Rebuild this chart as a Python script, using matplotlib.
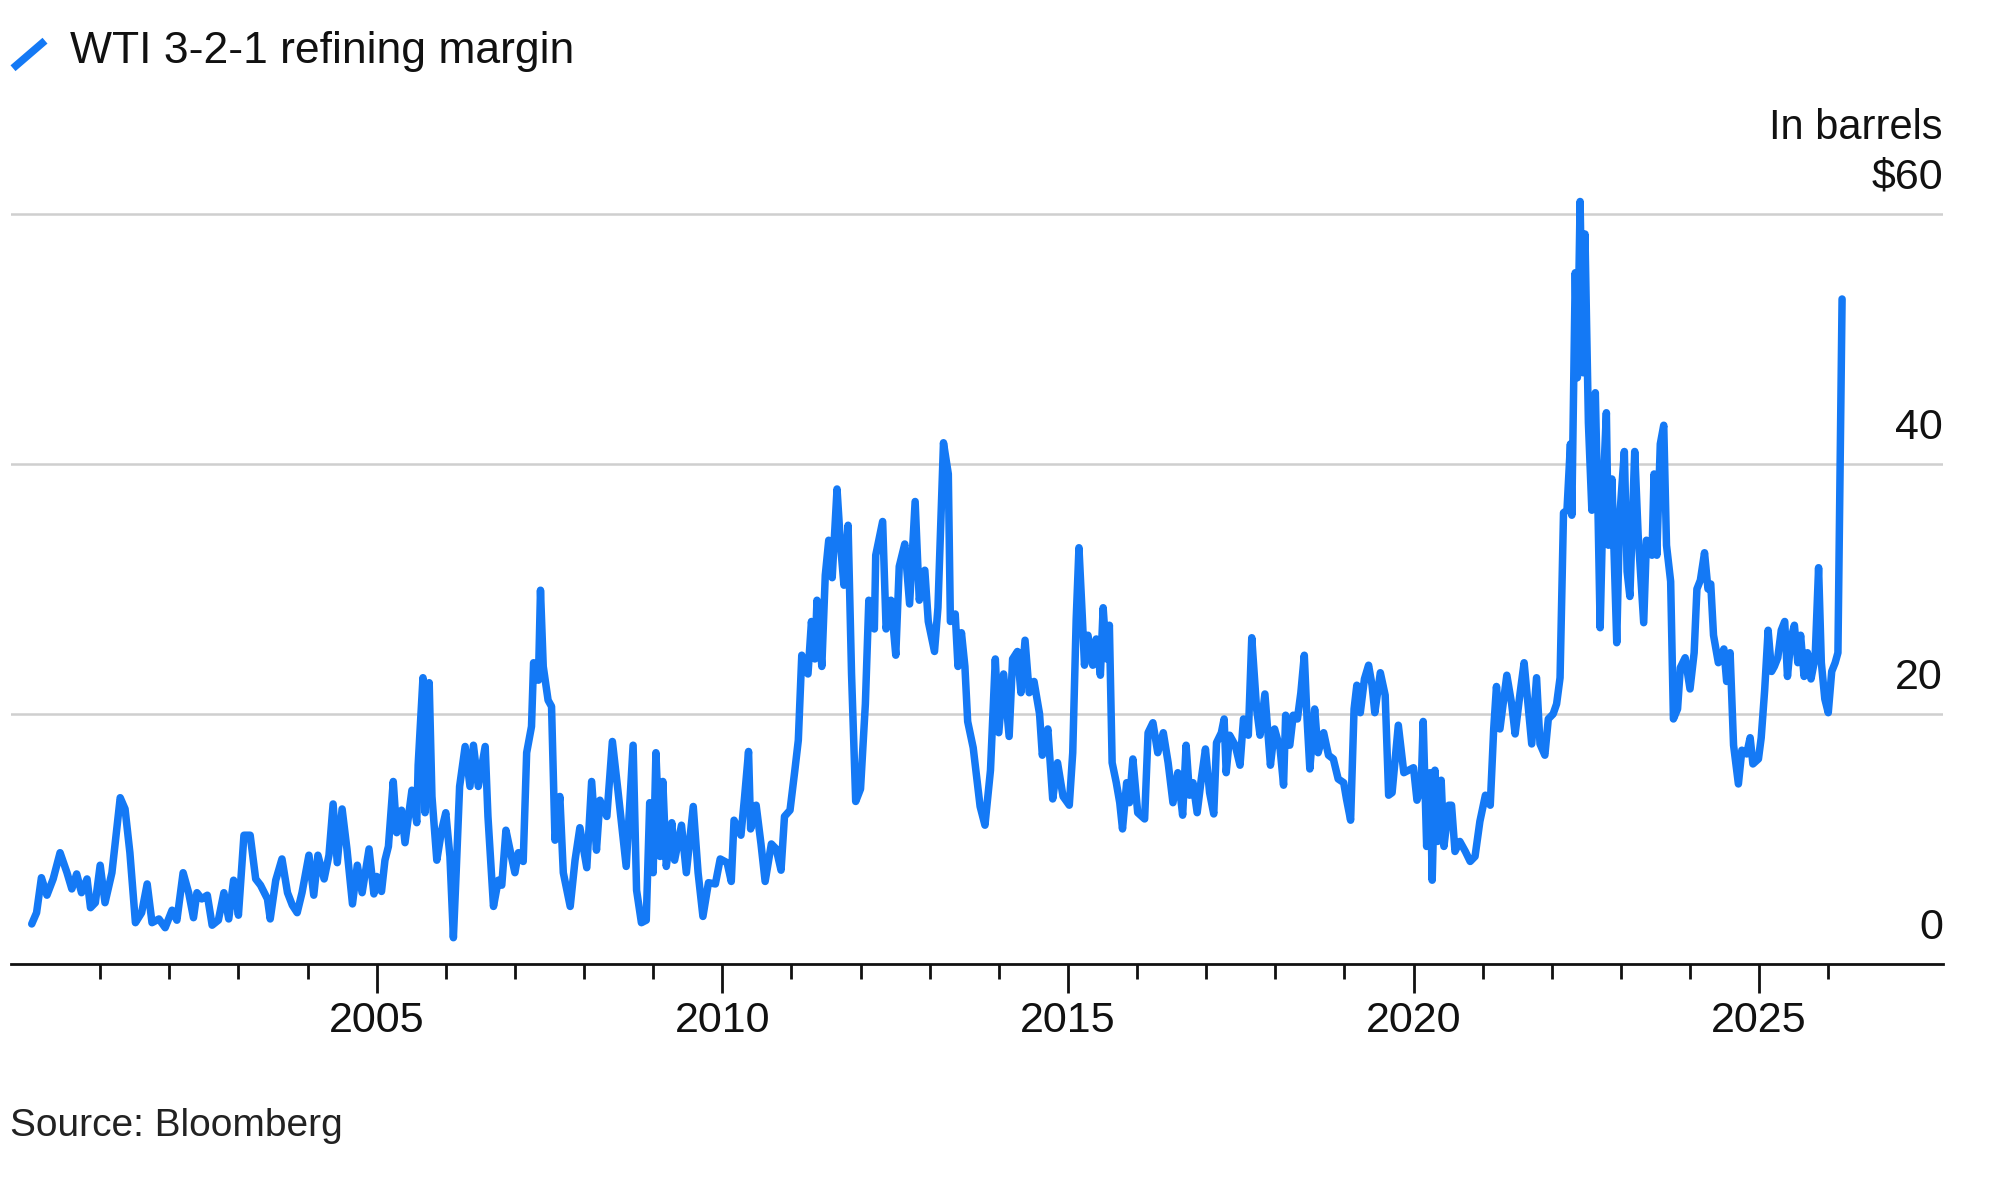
import matplotlib
matplotlib.use("Agg")
import matplotlib.pyplot as plt
from matplotlib.lines import Line2D
from matplotlib.transforms import ScaledTranslation, blended_transform_factory

plt.rcParams['font.family'] = ['Liberation Sans', 'DejaVu Sans']

# WTI 3-2-1 crack spread (decimal year, $/bbl)
years = [
    2000.01, 2000.08, 2000.15, 2000.23, 2000.32, 2000.42, 2000.52, 2000.59, 2000.66, 2000.73,
    2000.81, 2000.86, 2000.93, 2001.00, 2001.07, 2001.17, 2001.29, 2001.36, 2001.43, 2001.51,
    2001.60, 2001.68, 2001.75, 2001.85, 2001.94, 2002.04, 2002.11, 2002.20, 2002.28, 2002.35,
    2002.40, 2002.47, 2002.55, 2002.62, 2002.71, 2002.79, 2002.86, 2002.93, 2003.00, 2003.08,
    2003.17, 2003.25, 2003.32, 2003.42, 2003.46, 2003.54, 2003.63, 2003.71, 2003.78, 2003.85,
    2003.92, 2004.02, 2004.09, 2004.15, 2004.24, 2004.31, 2004.37, 2004.43, 2004.50, 2004.57,
    2004.65, 2004.72, 2004.79, 2004.89, 2004.96,
    2005.00, 2005.07, 2005.12, 2005.17, 2005.24, 2005.29, 2005.36, 2005.41, 2005.51, 2005.58,
    2005.60, 2005.67, 2005.70, 2005.76, 2005.80, 2005.87, 2005.94, 2006.00, 2006.06, 2006.11,
    2006.15, 2006.20, 2006.28, 2006.35, 2006.40, 2006.47, 2006.57, 2006.61, 2006.69, 2006.76,
    2006.81, 2006.87, 2006.93, 2007.00, 2007.05, 2007.12, 2007.17, 2007.24, 2007.27, 2007.34,
    2007.37, 2007.41, 2007.48, 2007.53, 2007.58, 2007.65, 2007.70, 2007.80, 2007.87, 2007.94,
    2008.04, 2008.11, 2008.18, 2008.23, 2008.33, 2008.41, 2008.49, 2008.61, 2008.71, 2008.76,
    2008.83, 2008.90, 2008.95, 2009.00, 2009.04, 2009.10, 2009.14, 2009.19, 2009.27, 2009.31,
    2009.41, 2009.48, 2009.58, 2009.65, 2009.72, 2009.80,
    2009.90, 2009.97, 2010.07, 2010.13, 2010.17, 2010.27, 2010.32, 2010.38, 2010.41, 2010.49,
    2010.56, 2010.62, 2010.71, 2010.78, 2010.85, 2010.90, 2010.98, 2011.05, 2011.10, 2011.15,
    2011.24, 2011.29, 2011.34, 2011.37, 2011.44, 2011.49, 2011.54, 2011.59, 2011.66, 2011.71,
    2011.76, 2011.82, 2011.87, 2011.93, 2012.00, 2012.07, 2012.12, 2012.20, 2012.22, 2012.32,
    2012.37, 2012.44, 2012.51, 2012.56, 2012.64, 2012.71, 2012.79, 2012.85, 2012.93, 2012.98,
    2013.07, 2013.12, 2013.20, 2013.27, 2013.30, 2013.37, 2013.41, 2013.46, 2013.51, 2013.55,
    2013.63, 2013.73, 2013.80, 2013.88, 2013.95, 2014.00, 2014.07, 2014.15, 2014.20, 2014.27,
    2014.32, 2014.38, 2014.44, 2014.51, 2014.59, 2014.63, 2014.71, 2014.78, 2014.85, 2014.93,
    2015.02, 2015.07, 2015.12, 2015.16, 2015.21, 2015.24, 2015.29, 2015.36, 2015.41, 2015.47,
    2015.51, 2015.56, 2015.60, 2015.64, 2015.70, 2015.75, 2015.79, 2015.85, 2015.89, 2015.94,
    2016.01, 2016.11, 2016.16, 2016.23, 2016.30, 2016.38, 2016.45, 2016.52, 2016.59, 2016.66,
    2016.71, 2016.76, 2016.81, 2016.87, 2016.93, 2016.99, 2017.05, 2017.11, 2017.15, 2017.22,
    2017.26, 2017.29, 2017.34, 2017.42, 2017.49, 2017.54, 2017.61, 2017.66, 2017.73, 2017.78,
    2017.85, 2017.93, 2017.99, 2018.07, 2018.12, 2018.15, 2018.21, 2018.26, 2018.32, 2018.37,
    2018.42, 2018.46, 2018.50, 2018.57, 2018.62, 2018.70, 2018.77, 2018.84, 2018.91, 2018.99,
    2019.03, 2019.09, 2019.14, 2019.18, 2019.23, 2019.29, 2019.35, 2019.40, 2019.44, 2019.52,
    2019.59, 2019.64, 2019.69, 2019.73, 2019.78, 2019.86, 2019.93, 2020.00,
    2020.05, 2020.11, 2020.14, 2020.19, 2020.24, 2020.27, 2020.31, 2020.35, 2020.40, 2020.44,
    2020.51, 2020.55, 2020.60, 2020.67, 2020.75, 2020.82, 2020.89, 2020.96, 2021.04, 2021.11,
    2021.16, 2021.20, 2021.25, 2021.35, 2021.42, 2021.47, 2021.54, 2021.60, 2021.66, 2021.71,
    2021.78, 2021.83, 2021.90, 2021.95, 2022.02, 2022.07, 2022.12, 2022.17, 2022.22, 2022.27,
    2022.29, 2022.34, 2022.37, 2022.41, 2022.45, 2022.48, 2022.53, 2022.58, 2022.63, 2022.67,
    2022.70, 2022.75, 2022.79, 2022.82, 2022.87, 2022.94, 2022.98, 2023.05, 2023.09, 2023.13,
    2023.20, 2023.25, 2023.33, 2023.37, 2023.45, 2023.48, 2023.52, 2023.57, 2023.62, 2023.66,
    2023.72, 2023.76, 2023.82, 2023.86, 2023.93, 2024.00,
    2024.06, 2024.10, 2024.15, 2024.21, 2024.26, 2024.30, 2024.34, 2024.41, 2024.49, 2024.53,
    2024.58, 2024.63, 2024.70, 2024.75, 2024.82, 2024.87, 2024.91, 2024.99, 2025.03, 2025.08,
    2025.13, 2025.18, 2025.22, 2025.27, 2025.32, 2025.37, 2025.41, 2025.46, 2025.51, 2025.56,
    2025.60, 2025.65, 2025.70, 2025.75, 2025.81, 2025.86, 2025.90, 2025.95, 2026.00, 2026.05,
    2026.10, 2026.14, 2026.20,
]
margin = [
    3.2, 4.1, 6.9, 5.5, 6.8, 8.9, 7.3, 6.0, 7.2, 5.7,
    6.8, 4.5, 4.9, 7.9, 4.9, 7.3, 13.3, 12.4, 8.9, 3.3,
    4.1, 6.4, 3.3, 3.6, 2.9, 4.3, 3.5, 7.3, 5.7, 3.7,
    5.7, 5.2, 5.5, 3.1, 3.5, 5.7, 3.6, 6.7, 3.9, 10.3,
    10.3, 6.8, 6.3, 5.2, 3.6, 6.7, 8.4, 5.7, 4.7, 4.1,
    5.7, 8.7, 5.5, 8.7, 6.8, 8.7, 12.8, 8.1, 12.4, 9.2,
    4.8, 7.9, 5.7, 9.2, 5.6,
    7.0, 5.8, 8.3, 9.4, 14.6, 10.5, 12.3, 9.7, 13.9, 11.3,
    15.9, 22.9, 12.1, 22.5, 13.4, 8.3, 10.7, 12.1, 8.6, 2.1,
    7.3, 14.2, 17.4, 14.2, 17.5, 14.2, 17.4, 11.8, 4.6, 6.7,
    6.3, 10.7, 9.1, 7.3, 8.9, 8.2, 16.9, 19.0, 24.1, 22.7,
    29.9, 23.8, 21.1, 20.6, 9.9, 13.4, 7.3, 4.6, 8.3, 10.9,
    7.7, 14.6, 9.1, 13.1, 11.8, 17.8, 13.9, 7.8, 17.5, 5.9,
    3.3, 3.5, 12.9, 7.3, 16.9, 8.6, 14.6, 7.8, 11.3, 8.3,
    11.1, 7.3, 12.6, 7.3, 3.8, 6.5,
    6.4, 8.4, 8.1, 6.6, 11.5, 10.3, 13.2, 17.0, 10.8, 12.7,
    9.6, 6.6, 9.6, 9.2, 7.5, 11.8, 12.3, 15.5, 17.9, 24.7,
    23.2, 27.4, 24.4, 29.1, 23.8, 31.1, 33.9, 30.9, 38.0, 33.6,
    30.3, 35.1, 23.2, 13.0, 14.0, 20.8, 29.1, 26.8, 32.7, 35.4,
    26.8, 29.1, 24.7, 31.8, 33.6, 28.8, 37.0, 29.1, 31.5, 27.4,
    25.0, 28.5, 41.7, 39.2, 27.4, 28.0, 23.8, 26.5, 23.8, 19.4,
    17.3, 12.6, 11.1, 15.5, 24.4, 18.5, 23.2, 18.2, 24.4, 25.0,
    21.7, 25.9, 21.7, 22.6, 20.0, 16.7, 18.8, 13.2, 16.1, 13.4,
    12.7, 16.9, 27.6, 33.3, 27.6, 23.9, 26.3, 23.9, 26.0, 23.1,
    28.5, 24.4, 27.1, 16.1, 14.5, 12.9, 10.8, 14.5, 12.9, 16.4,
    12.1, 11.6, 18.5, 19.3, 16.9, 18.5, 16.1, 12.9, 15.3, 11.9,
    17.5, 13.5, 14.5, 12.1, 14.8, 17.2, 13.7, 12.0, 17.7, 18.5,
    19.6, 15.3, 18.3, 17.5, 15.9, 19.6, 18.3, 26.1, 20.4, 18.3,
    21.6, 15.9, 18.8, 17.2, 14.3, 19.9, 17.5, 19.9, 19.6, 21.7,
    24.7, 19.6, 15.6, 20.4, 16.9, 18.5, 16.7, 16.4, 14.8, 14.5,
    13.2, 11.5, 20.4, 22.3, 20.1, 22.8, 23.9, 22.3, 20.1, 23.3,
    21.5, 13.5, 13.7, 16.1, 19.1, 15.3, 15.5, 15.7,
    13.1, 14.1, 19.4, 9.4, 15.3, 6.7, 15.5, 9.8, 14.7, 9.4,
    12.7, 12.7, 9.0, 9.8, 9.0, 8.2, 8.6, 11.4, 13.5, 12.7,
    18.8, 22.2, 18.8, 23.1, 20.8, 18.4, 21.6, 24.1, 20.6, 17.6,
    22.9, 17.6, 16.7, 19.6, 20.0, 20.8, 22.9, 36.1, 36.3, 41.6,
    35.9, 55.3, 46.9, 61.0, 47.3, 58.4, 43.3, 36.3, 45.7, 35.9,
    26.9, 38.8, 44.1, 33.5, 38.8, 25.7, 35.5, 41.0, 31.4, 29.4,
    41.0, 34.3, 27.3, 33.9, 32.7, 39.2, 32.7, 41.6, 43.1, 33.5,
    30.6, 19.6, 20.4, 23.7, 24.5, 22.0,
    24.9, 30.0, 30.7, 32.9, 30.0, 30.4, 26.3, 24.1, 25.2, 22.6,
    24.9, 17.5, 14.4, 17.1, 16.8, 18.1, 16.0, 16.4, 18.1, 21.9,
    26.7, 23.4, 23.8, 24.5, 26.7, 27.4, 23.0, 26.0, 27.1, 24.1,
    26.3, 23.0, 24.9, 22.8, 24.5, 31.7, 24.1, 21.2, 20.1, 23.4,
    24.1, 24.9, 53.2,
]

grid_values = [20, 40, 60]
y_labels = ["0", "20", "40", "$60"]
major_years = [2005, 2010, 2015, 2020, 2025]
minor_years = [y for y in range(2001, 2027) if y % 5 != 0]

blue = "#1479f5"
ink = "#111111"

fig = plt.figure(figsize=(20, 11.97), dpi=100)
ax = fig.add_axes([0.0055, 0.1947, 0.966, 0.6474])

for v in grid_values:
    ax.axhline(v, color="#cfcfcf", lw=1.8, zorder=1)

ax.plot(years, margin, color=blue, lw=5.4, solid_joinstyle="round",
        solid_capstyle="round", zorder=3)

ax.set_xlim(1999.71, 2027.66)
ax.set_ylim(0, 62)

for s in ["top", "left", "right"]:
    ax.spines[s].set_visible(False)
ax.spines["bottom"].set_linewidth(2.0)
ax.spines["bottom"].set_color(ink)

ax.set_yticks([])
ax.set_xticks(major_years)
ax.set_xticklabels([str(y) for y in major_years])
ax.set_xticks(minor_years, minor=True)
ax.tick_params(axis="x", which="major", length=21, width=2.0, color=ink,
               labelsize=31, pad=6, labelcolor=ink)
ax.tick_params(axis="x", which="minor", length=11, width=2.0, color=ink)

# value labels sit just above their gridlines, flush right
trans = blended_transform_factory(ax.transAxes, ax.transData)
lift = ScaledTranslation(0, 26 / 72, fig.dpi_scale_trans)
for v, lab in zip([0] + grid_values, y_labels):
    ax.text(1.0, v, lab, transform=trans + lift, ha="right", va="center",
            fontsize=31, color=ink)
ax.text(1.0, 60, "In barrels", transform=trans + ScaledTranslation(0, 62 / 72, fig.dpi_scale_trans),
        ha="right", va="center", fontsize=30, color=ink)

# title with a small line swatch
fig.add_artist(Line2D([0.0065, 0.0225], [0.943, 0.966], color=blue, lw=5.5,
                      solid_capstyle="butt", transform=fig.transFigure))
fig.text(0.035, 0.957, "WTI 3-2-1 refining margin", fontsize=32, va="center",
         ha="left", color=ink)
fig.text(0.005, 0.0593, "Source: Bloomberg", fontsize=28, va="center",
         ha="left", color="#222222")

fig.savefig("out.png", dpi=100, facecolor="white")
